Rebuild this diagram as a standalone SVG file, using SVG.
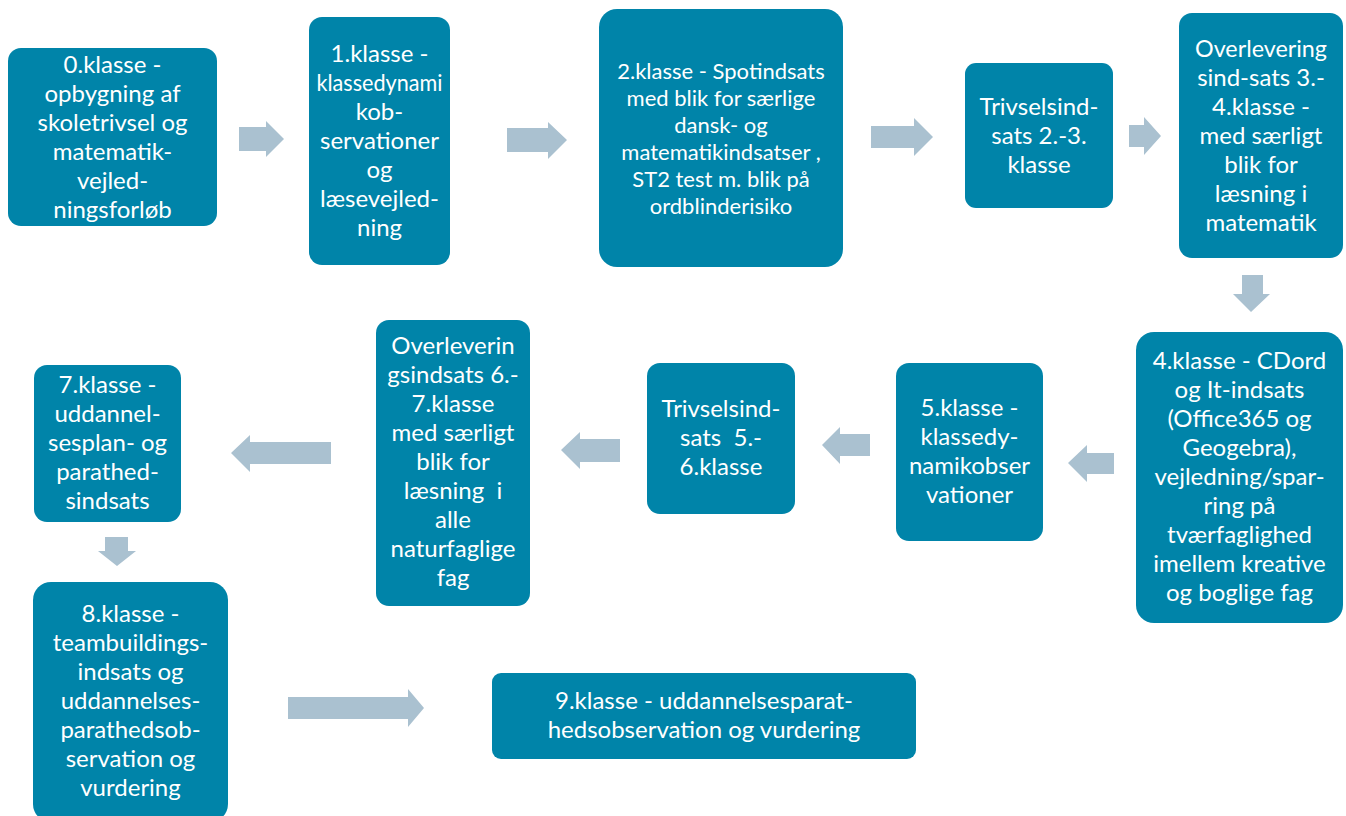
<svg xmlns="http://www.w3.org/2000/svg" width="1346" height="816" viewBox="0 0 1346 816">
<style>
.box{fill:#0084A9;}
.arr{fill:#AAC1D0;}
.t{font-family:Lato,"Open Sans","Liberation Sans",sans-serif;font-size:24px;fill:#FFFFFF;text-anchor:middle;}
.s{font-size:22px;}
</style>
<rect width="1346" height="816" fill="#FFFFFF"/>
<g id="connectors">
<polygon class="arr" points="239,127 266,127 266,121 284,139 266,157 266,151 239,151"/>
<polygon class="arr" points="507,128 548,128 548,122 567,140 548,159 548,152 507,152"/>
<polygon class="arr" points="871,126 914,126 914,118 933,137 914,156 914,148 871,148"/>
<polygon class="arr" points="1129,125 1144,125 1144,117 1161,136 1144,155 1144,147 1129,147"/>
<polygon class="arr" points="1242,275 1263,275 1263,294 1270,294 1251,312 1233,294 1242,294"/>
<polygon class="arr" points="1114,453 1087,453 1087,445 1068,463 1087,482 1087,474 1114,474"/>
<polygon class="arr" points="870,434 840,434 840,427 822,445 840,464 840,456 870,456"/>
<polygon class="arr" points="620,439 580,439 580,432 561,450 580,469 580,462 620,462"/>
<polygon class="arr" points="331,442 250,442 250,435 231,453 250,472 250,464 331,464"/>
<polygon class="arr" points="105,537 128,537 128,551 136,551 117,566 98,551 105,551"/>
<polygon class="arr" points="288,697 408,697 408,689 424,708 408,727 408,719 288,719"/>
</g>
<g id="n0">
<rect class="box" x="8" y="48" width="209" height="178" rx="13"/>
<text class="t"><tspan x="112.5" y="72.5">0.klasse -</tspan><tspan x="112.5" y="101.5">opbygning af</tspan><tspan x="112.5" y="130.5">skoletrivsel og</tspan><tspan x="112.5" y="159.5">matematik-</tspan><tspan x="112.5" y="188.5">vejled-</tspan><tspan x="112.5" y="217.5">ningsforløb</tspan></text>
</g>
<g id="n1">
<rect class="box" x="309" y="17" width="141" height="248" rx="13"/>
<text class="t"><tspan x="379.5" y="62">1.klasse -</tspan><tspan x="379.5" y="91" textLength="126" lengthAdjust="spacingAndGlyphs">klassedynami</tspan><tspan x="379.5" y="120">kob-</tspan><tspan x="379.5" y="149">servationer</tspan><tspan x="379.5" y="178">og</tspan><tspan x="379.5" y="207">læsevejled-</tspan><tspan x="379.5" y="236">ning</tspan></text>
</g>
<g id="n2">
<rect class="box" x="599" y="9" width="244" height="258" rx="18"/>
<text class="t s"><tspan x="721" y="79">2.klasse - Spotindsats</tspan><tspan x="721" y="106">med blik for særlige</tspan><tspan x="721" y="133">dansk- og</tspan><tspan x="721" y="160">matematikindsatser ,</tspan><tspan x="721" y="187">ST2 test m. blik på</tspan><tspan x="721" y="214">ordblinderisiko</tspan></text>
</g>
<g id="n3">
<rect class="box" x="965" y="63" width="148" height="145" rx="11"/>
<text class="t"><tspan x="1039" y="115">Trivselsind-</tspan><tspan x="1039" y="144">sats 2.-3.</tspan><tspan x="1039" y="173">klasse</tspan></text>
</g>
<g id="n4">
<rect class="box" x="1179" y="13" width="164" height="245" rx="13"/>
<text class="t"><tspan x="1261" y="57" textLength="132" lengthAdjust="spacingAndGlyphs">Overlevering</tspan><tspan x="1261" y="86">sind-sats 3.-</tspan><tspan x="1261" y="115">4.klasse -</tspan><tspan x="1261" y="144">med særligt</tspan><tspan x="1261" y="173">blik for</tspan><tspan x="1261" y="202">læsning i</tspan><tspan x="1261" y="231">matematik</tspan></text>
</g>
<g id="n5">
<rect class="box" x="1136" y="332" width="207" height="291" rx="18"/>
<text class="t"><tspan x="1239.5" y="369">4.klasse - CDord</tspan><tspan x="1239.5" y="398">og It-indsats</tspan><tspan x="1239.5" y="427">(Office365 og</tspan><tspan x="1239.5" y="456">Geogebra),</tspan><tspan x="1239.5" y="485">vejledning/spar-</tspan><tspan x="1239.5" y="514">ring på</tspan><tspan x="1239.5" y="543">tværfaglighed</tspan><tspan x="1239.5" y="572">imellem kreative</tspan><tspan x="1239.5" y="601">og boglige fag</tspan></text>
</g>
<g id="n6">
<rect class="box" x="896" y="363" width="147" height="178" rx="13"/>
<text class="t"><tspan x="969.5" y="416">5.klasse -</tspan><tspan x="969.5" y="445">klassedy-</tspan><tspan x="969.5" y="474">namikobser</tspan><tspan x="969.5" y="503">vationer</tspan></text>
</g>
<g id="n7">
<rect class="box" x="647" y="363" width="148" height="151" rx="13"/>
<text class="t"><tspan x="721" y="417">Trivselsind-</tspan><tspan x="721" y="446" xml:space="preserve">sats  5.-</tspan><tspan x="721" y="475">6.klasse</tspan></text>
</g>
<g id="n8">
<rect class="box" x="376" y="320" width="154" height="286" rx="13"/>
<text class="t"><tspan x="453" y="354">Overleverin</tspan><tspan x="453" y="383">gsindsats 6.-</tspan><tspan x="453" y="412">7.klasse</tspan><tspan x="453" y="441">med særligt</tspan><tspan x="453" y="470">blik for</tspan><tspan x="453" y="499" xml:space="preserve">læsning  i</tspan><tspan x="453" y="528">alle</tspan><tspan x="453" y="557">naturfaglige</tspan><tspan x="453" y="586">fag</tspan></text>
</g>
<g id="n9">
<rect class="box" x="34" y="365" width="147" height="157" rx="13"/>
<text class="t"><tspan x="107.5" y="393">7.klasse -</tspan><tspan x="107.5" y="422">uddannel-</tspan><tspan x="107.5" y="451">sesplan- og</tspan><tspan x="107.5" y="480">parathed-</tspan><tspan x="107.5" y="509">sindsats</tspan></text>
</g>
<g id="n10">
<rect class="box" x="33" y="582" width="195" height="240" rx="18"/>
<text class="t"><tspan x="130.5" y="622">8.klasse -</tspan><tspan x="130.5" y="651">teambuildings-</tspan><tspan x="130.5" y="680">indsats og</tspan><tspan x="130.5" y="709">uddannelses-</tspan><tspan x="130.5" y="738">parathedsob-</tspan><tspan x="130.5" y="767">servation og</tspan><tspan x="130.5" y="796">vurdering</tspan></text>
</g>
<g id="n11">
<rect class="box" x="492" y="673" width="424" height="86" rx="9"/>
<text class="t"><tspan x="704" y="709">9.klasse - uddannelsesparat-</tspan><tspan x="704" y="738">hedsobservation og vurdering</tspan></text>
</g>
</svg>
